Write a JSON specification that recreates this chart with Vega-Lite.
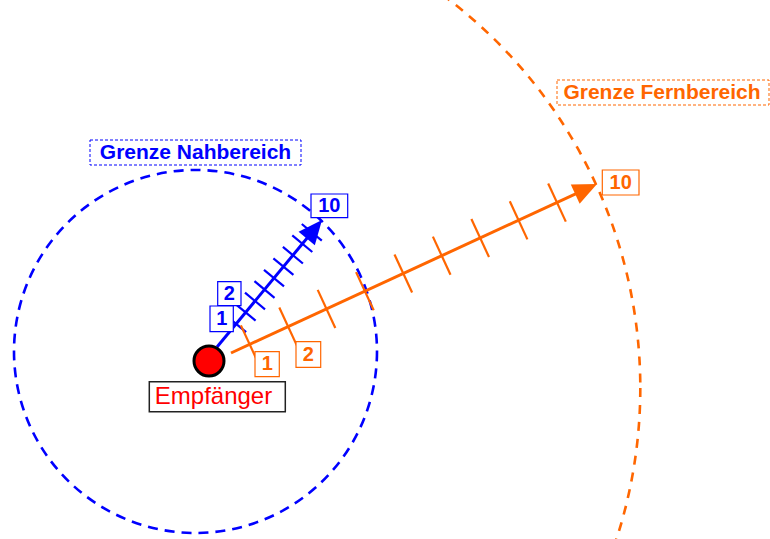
{
  "$schema": "https://vega.github.io/schema/vega-lite/v6.json",
  "width": 770,
  "height": 539,
  "padding": 0,
  "autosize": {"type": "fit", "contains": "padding"},
  "background": "white",
  "config": {"view": {"stroke": null}, "text": {"font": "Liberation Sans"}},
  "datasets": {
    "ringe": [
      {"bereich": "Nahbereich", "x": 195.5, "y": 351.5},
      {"bereich": "Fernbereich", "x": 151, "y": 388}
    ],
    "pfeile": [
      {"bereich": "Nahbereich", "x": 217, "y": 347, "x2": 316.9, "y2": 226.2},
      {"bereich": "Fernbereich", "x": 231, "y": 353, "x2": 589.7, "y2": 187.4}
    ],
    "striche": [
      {"bereich": "Nahbereich", "k": 1, "x": 236.1, "y": 323.9},
      {"bereich": "Nahbereich", "k": 2, "x": 245.6, "y": 312.4},
      {"bereich": "Nahbereich", "k": 3, "x": 255.0, "y": 301.0},
      {"bereich": "Nahbereich", "k": 4, "x": 264.5, "y": 289.5},
      {"bereich": "Nahbereich", "k": 5, "x": 274.0, "y": 278.1},
      {"bereich": "Nahbereich", "k": 6, "x": 283.4, "y": 266.6},
      {"bereich": "Nahbereich", "k": 7, "x": 292.9, "y": 255.2},
      {"bereich": "Nahbereich", "k": 8, "x": 302.3, "y": 243.7},
      {"bereich": "Nahbereich", "k": 9, "x": 311.8, "y": 232.3},
      {"bereich": "Fernbereich", "k": 1, "x": 249.7, "y": 344.4},
      {"bereich": "Fernbereich", "k": 2, "x": 288.1, "y": 326.6},
      {"bereich": "Fernbereich", "k": 3, "x": 326.5, "y": 308.9},
      {"bereich": "Fernbereich", "k": 4, "x": 364.9, "y": 291.2},
      {"bereich": "Fernbereich", "k": 5, "x": 403.3, "y": 273.5},
      {"bereich": "Fernbereich", "k": 6, "x": 441.7, "y": 255.7},
      {"bereich": "Fernbereich", "k": 7, "x": 480.2, "y": 238.0},
      {"bereich": "Fernbereich", "k": 8, "x": 518.6, "y": 220.3},
      {"bereich": "Fernbereich", "k": 9, "x": 557.0, "y": 202.6}
    ],
    "spitzen": [
      {"bereich": "Nahbereich", "x": 322, "y": 220},
      {"bereich": "Fernbereich", "x": 597, "y": 184}
    ],
    "empfaenger": [
      {"bereich": "Empfänger", "x": 209, "y": 361}
    ],
    "kaesten": [
      {"art": "zone", "bereich": "Nahbereich", "x": 90, "y": 140, "x2": 301, "y2": 165},
      {"art": "zone", "bereich": "Fernbereich", "x": 557, "y": 80, "x2": 769, "y2": 105},
      {"art": "empf", "bereich": "Empfänger", "x": 149.3, "y": 381.7, "x2": 285.3, "y2": 411.7},
      {"art": "zahl", "bereich": "Nahbereich", "x": 217.7, "y": 281.7, "x2": 241, "y2": 305.7},
      {"art": "zahl", "bereich": "Nahbereich", "x": 210, "y": 306, "x2": 233.3, "y2": 331.7},
      {"art": "zahl", "bereich": "Nahbereich", "x": 311, "y": 194, "x2": 347.7, "y2": 217.7},
      {"art": "zahl", "bereich": "Fernbereich", "x": 255, "y": 351.7, "x2": 279.3, "y2": 376.7},
      {"art": "zahl", "bereich": "Fernbereich", "x": 296, "y": 341.7, "x2": 320.7, "y2": 367.3},
      {"art": "zahl", "bereich": "Fernbereich", "x": 602.3, "y": 170, "x2": 639, "y2": 195}
    ],
    "texte": [
      {"art": "zone", "bereich": "Nahbereich", "text": "Grenze Nahbereich", "x": 195.5, "y": 152.5},
      {"art": "zone", "bereich": "Fernbereich", "text": "Grenze Fernbereich", "x": 662, "y": 92.5},
      {"art": "empf", "bereich": "Empfänger", "text": "Empfänger", "x": 213.5, "y": 396.7},
      {"art": "zahl", "bereich": "Nahbereich", "text": "2", "x": 229.3, "y": 293.7},
      {"art": "zahl", "bereich": "Nahbereich", "text": "1", "x": 221.7, "y": 318.9},
      {"art": "zahl", "bereich": "Nahbereich", "text": "10", "x": 329.3, "y": 205.9},
      {"art": "zahl", "bereich": "Fernbereich", "text": "1", "x": 267.2, "y": 364.2},
      {"art": "zahl", "bereich": "Fernbereich", "text": "2", "x": 308.3, "y": 354.5},
      {"art": "zahl", "bereich": "Fernbereich", "text": "10", "x": 620.7, "y": 182.5}
    ]
  },
  "encoding": {
    "x": {"field": "x", "type": "quantitative", "scale": {"domain": [0, 770], "nice": false, "zero": false}, "axis": null},
    "y": {"field": "y", "type": "quantitative", "scale": {"domain": [0, 539], "reverse": true, "nice": false, "zero": false}, "axis": null}
  },
  "layer": [
    {
      "data": {"name": "ringe"},
      "transform": [{"filter": "datum.bereich === 'Nahbereich'"}],
      "mark": {"type": "point", "shape": "circle", "filled": false, "size": 131769, "strokeWidth": 2.6, "strokeDash": [10, 7], "opacity": 1},
      "encoding": {"color": {"field": "bereich", "type": "nominal", "scale": {"domain": ["Nahbereich", "Fernbereich", "Empfänger"], "range": ["#0000ff", "#ff6600", "#ff0000"]}, "legend": null}}
    },
    {
      "data": {"name": "ringe"},
      "transform": [{"filter": "datum.bereich === 'Fernbereich'"}],
      "mark": {"type": "point", "shape": "circle", "filled": false, "size": 957658, "strokeWidth": 2.6, "strokeDash": [9, 8], "opacity": 1, "clip": true},
      "encoding": {"color": {"field": "bereich", "type": "nominal", "scale": {"domain": ["Nahbereich", "Fernbereich", "Empfänger"], "range": ["#0000ff", "#ff6600", "#ff0000"]}, "legend": null}}
    },
    {
      "data": {"name": "pfeile"},
      "mark": {"type": "rule", "strokeWidth": 3},
      "encoding": {
        "x2": {"field": "x2"},
        "y2": {"field": "y2"},
        "color": {"field": "bereich", "type": "nominal", "scale": {"domain": ["Nahbereich", "Fernbereich", "Empfänger"], "range": ["#0000ff", "#ff6600", "#ff0000"]}, "legend": null}
      }
    },
    {
      "data": {"name": "striche"},
      "transform": [{"filter": "datum.bereich === 'Nahbereich'"}],
      "mark": {"type": "point", "shape": "stroke", "filled": false, "size": 676, "angle": 39.6, "strokeWidth": 2.2, "opacity": 1},
      "encoding": {"color": {"field": "bereich", "type": "nominal", "scale": {"domain": ["Nahbereich", "Fernbereich", "Empfänger"], "range": ["#0000ff", "#ff6600", "#ff0000"]}, "legend": null}}
    },
    {
      "data": {"name": "striche"},
      "transform": [{"filter": "datum.bereich === 'Fernbereich'"}],
      "mark": {"type": "point", "shape": "stroke", "filled": false, "size": 1764, "angle": 65.2, "strokeWidth": 2.2, "opacity": 1},
      "encoding": {"color": {"field": "bereich", "type": "nominal", "scale": {"domain": ["Nahbereich", "Fernbereich", "Empfänger"], "range": ["#0000ff", "#ff6600", "#ff0000"]}, "legend": null}}
    },
    {
      "data": {"name": "spitzen"},
      "transform": [{"filter": "datum.bereich === 'Nahbereich'"}],
      "mark": {"type": "point", "shape": "M0,0L-0.44,1L0.44,1Z", "filled": true, "size": 2304, "angle": 39.6, "strokeWidth": 0, "opacity": 1},
      "encoding": {"color": {"field": "bereich", "type": "nominal", "scale": {"domain": ["Nahbereich", "Fernbereich", "Empfänger"], "range": ["#0000ff", "#ff6600", "#ff0000"]}, "legend": null}}
    },
    {
      "data": {"name": "spitzen"},
      "transform": [{"filter": "datum.bereich === 'Fernbereich'"}],
      "mark": {"type": "point", "shape": "M0,0L-0.44,1L0.44,1Z", "filled": true, "size": 2304, "angle": 65.2, "strokeWidth": 0, "opacity": 1},
      "encoding": {"color": {"field": "bereich", "type": "nominal", "scale": {"domain": ["Nahbereich", "Fernbereich", "Empfänger"], "range": ["#0000ff", "#ff6600", "#ff0000"]}, "legend": null}}
    },
    {
      "data": {"name": "empfaenger"},
      "mark": {"type": "point", "shape": "circle", "filled": true, "size": 900, "fill": "#ff0000", "stroke": "#000000", "strokeWidth": 3, "opacity": 1}
    },
    {
      "data": {"name": "kaesten"},
      "transform": [{"filter": "datum.art === 'zone'"}],
      "mark": {"type": "rect", "fill": "#ffffff", "strokeWidth": 1, "strokeDash": [3, 2]},
      "encoding": {
        "x2": {"field": "x2"},
        "y2": {"field": "y2"},
        "stroke": {"field": "bereich", "type": "nominal", "scale": {"domain": ["Nahbereich", "Fernbereich", "Empfänger"], "range": ["#0000ff", "#ff6600", "#222222"]}, "legend": null}
      }
    },
    {
      "data": {"name": "kaesten"},
      "transform": [{"filter": "datum.art === 'zahl'"}],
      "mark": {"type": "rect", "fill": "#ffffff", "strokeWidth": 1.2},
      "encoding": {
        "x2": {"field": "x2"},
        "y2": {"field": "y2"},
        "stroke": {"field": "bereich", "type": "nominal", "scale": {"domain": ["Nahbereich", "Fernbereich", "Empfänger"], "range": ["#0000ff", "#ff6600", "#222222"]}, "legend": null}
      }
    },
    {
      "data": {"name": "kaesten"},
      "transform": [{"filter": "datum.art === 'empf'"}],
      "mark": {"type": "rect", "fill": "#ffffff", "strokeWidth": 1.5},
      "encoding": {
        "x2": {"field": "x2"},
        "y2": {"field": "y2"},
        "stroke": {"field": "bereich", "type": "nominal", "scale": {"domain": ["Nahbereich", "Fernbereich", "Empfänger"], "range": ["#0000ff", "#ff6600", "#222222"]}, "legend": null}
      }
    },
    {
      "data": {"name": "texte"},
      "transform": [{"filter": "datum.art === 'zone'"}],
      "mark": {"type": "text", "font": "Liberation Sans", "fontSize": 21, "fontWeight": "bold", "align": "center", "baseline": "middle"},
      "encoding": {
        "text": {"field": "text"},
        "color": {"field": "bereich", "type": "nominal", "scale": {"domain": ["Nahbereich", "Fernbereich", "Empfänger"], "range": ["#0000ff", "#ff6600", "#ff0000"]}, "legend": null}
      }
    },
    {
      "data": {"name": "texte"},
      "transform": [{"filter": "datum.art === 'zahl'"}],
      "mark": {"type": "text", "font": "Liberation Sans", "fontSize": 20, "fontWeight": "bold", "align": "center", "baseline": "middle"},
      "encoding": {
        "text": {"field": "text"},
        "color": {"field": "bereich", "type": "nominal", "scale": {"domain": ["Nahbereich", "Fernbereich", "Empfänger"], "range": ["#0000ff", "#ff6600", "#ff0000"]}, "legend": null}
      }
    },
    {
      "data": {"name": "texte"},
      "transform": [{"filter": "datum.art === 'empf'"}],
      "mark": {"type": "text", "font": "Liberation Sans", "fontSize": 24, "fontWeight": "normal", "align": "center", "baseline": "middle"},
      "encoding": {
        "text": {"field": "text"},
        "color": {"field": "bereich", "type": "nominal", "scale": {"domain": ["Nahbereich", "Fernbereich", "Empfänger"], "range": ["#0000ff", "#ff6600", "#ff0000"]}, "legend": null}
      }
    }
  ]
}
